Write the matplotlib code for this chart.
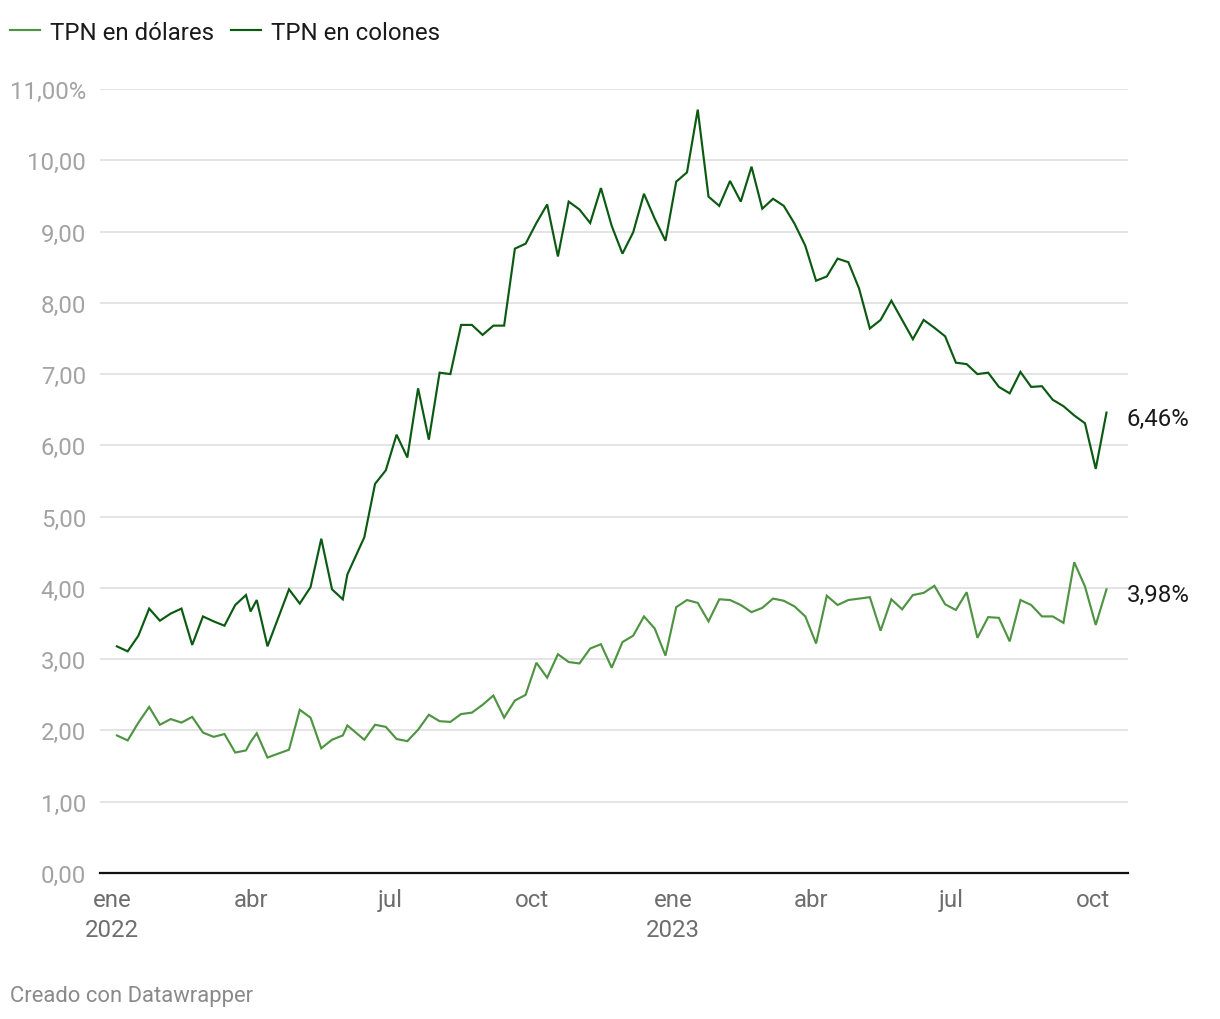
import matplotlib
matplotlib.use("Agg")
import matplotlib.pyplot as plt
from matplotlib.lines import Line2D
import pandas as pd

plt.rcParams['font.family'] = ['Roboto', 'DejaVu Sans']

# ---- data -------------------------------------------------------------
start_date = "2022-01-04"
n_weeks = 93
missing_weeks = [15, 22]            # weeks without a value
extra_dates = ["2022-04-01", "2022-06-03"]

colones = [3.18, 3.11, 3.33, 3.71, 3.54, 3.64, 3.71, 3.20, 3.60, 3.53,
           3.47, 3.76, 3.90, 3.67, 3.83, 3.18, 3.98, 3.78, 4.01, 4.69,
           3.98, 3.84, 4.19, 4.71, 5.46, 5.65, 6.15, 5.83, 6.80, 6.08,
           7.02, 7.00, 7.69, 7.69, 7.55, 7.68, 7.68, 8.76, 8.83, 9.12,
           9.38, 8.65, 9.42, 9.31, 9.12, 9.61, 9.08, 8.69, 8.99, 9.53,
           9.18, 8.87, 9.70, 9.83, 10.71, 9.49, 9.36, 9.71, 9.42, 9.91,
           9.32, 9.46, 9.36, 9.11, 8.80, 8.31, 8.37, 8.62, 8.57, 8.20,
           7.64, 7.76, 8.03, 7.76, 7.49, 7.76, 7.65, 7.53, 7.16, 7.14,
           7.00, 7.02, 6.82, 6.73, 7.03, 6.82, 6.83, 6.64, 6.55, 6.42,
           6.31, 5.67, 6.46]

dolares = [1.93, 1.86, 2.11, 2.33, 2.08, 2.16, 2.11, 2.19, 1.97, 1.91,
           1.95, 1.69, 1.72, 1.84, 1.96, 1.62, 1.73, 2.29, 2.18, 1.75,
           1.87, 1.93, 2.07, 1.87, 2.08, 2.05, 1.88, 1.85, 2.01, 2.22,
           2.13, 2.12, 2.23, 2.25, 2.36, 2.49, 2.18, 2.42, 2.50, 2.95,
           2.74, 3.07, 2.96, 2.94, 3.15, 3.21, 2.88, 3.24, 3.33, 3.60,
           3.43, 3.05, 3.73, 3.83, 3.79, 3.53, 3.84, 3.83, 3.76, 3.66,
           3.72, 3.85, 3.82, 3.74, 3.60, 3.22, 3.89, 3.76, 3.83, 3.85,
           3.87, 3.40, 3.84, 3.70, 3.90, 3.93, 4.03, 3.77, 3.69, 3.94,
           3.30, 3.59, 3.58, 3.25, 3.83, 3.76, 3.60, 3.60, 3.51, 4.36,
           4.02, 3.48, 3.98]

series_names = ["TPN en dólares", "TPN en colones"]
end_labels = ["3,98%", "6,46%"]
tick_dates = ["2022-01-01", "2022-04-01", "2022-07-01", "2022-10-01",
              "2023-01-01", "2023-04-01", "2023-07-01", "2023-10-01"]
tick_labels = ["ene\n2022", "abr", "jul", "oct", "ene\n2023", "abr", "jul", "oct"]
y_ticks = list(range(0, 12))
y_tick_labels = ["0,00", "1,00", "2,00", "3,00", "4,00", "5,00", "6,00",
                 "7,00", "8,00", "9,00", "10,00", "11,00%"]

weekly = pd.date_range(start_date, periods=n_weeks, freq="7D")
weekly = weekly.delete(missing_weeks)
dates = weekly.append(pd.DatetimeIndex(extra_dates)).sort_values()
assert len(dates) == len(colones) == len(dolares)

# ---- style ------------------------------------------------------------
c_dol = "#4f9443"
c_col = "#0b5a12"
grid_c = "#e2e2e2"
fs = 17.3
lw = 1.55

fig = plt.figure(figsize=(12.2, 10.2), dpi=100)
ax = fig.add_axes([100 / 1220, 146 / 1020, 1028 / 1220, 784 / 1020])

ax.plot(dates, dolares, color=c_dol, lw=lw, solid_joinstyle="miter", zorder=3)
ax.plot(dates, colones, color=c_col, lw=lw, solid_joinstyle="miter", zorder=3)

ax.set_ylim(0, 11)
ax.set_xlim(pd.Timestamp("2021-12-24"), pd.Timestamp("2023-10-24"))

ax.set_yticks(y_ticks)
ax.set_yticklabels(y_tick_labels)
ax.set_xticks(pd.to_datetime(tick_dates))
ax.set_xticklabels(tick_labels)

ax.grid(axis="y", color=grid_c, lw=1.3, zorder=0)
ax.grid(axis="x", visible=False)
for s in ["top", "right", "left"]:
    ax.spines[s].set_visible(False)
ax.spines["bottom"].set_color("#111111")
ax.spines["bottom"].set_linewidth(1.6)
ax.spines["bottom"].set_zorder(4)

ax.tick_params(axis="y", length=0, pad=10, labelsize=fs, labelcolor="#a3a3a3")
ax.tick_params(axis="x", length=0, pad=11, labelsize=fs, labelcolor="#6e6e6e")
for lab in ax.get_yticklabels():
    lab.set_horizontalalignment("right")
for lab in ax.get_xticklabels():
    lab.set_linespacing(1.4)

# end labels
for val, txt in zip([colones[-1], dolares[-1]], [end_labels[1], end_labels[0]]):
    ax.annotate(txt, xy=(dates[-1], val), xytext=(14.5, -4),
                textcoords="offset points", va="center", ha="left",
                fontsize=fs, color="#1a1a1a", annotation_clip=False)

# legend
handles = [Line2D([0], [0], color=c_dol, lw=lw),
           Line2D([0], [0], color=c_col, lw=lw)]
fig.legend(handles, series_names, loc="center left",
           bbox_to_anchor=(3 / 1220, 1 - 33 / 1020), ncol=2, frameon=False,
           fontsize=fs, handlelength=1.25, handletextpad=0.42,
           columnspacing=0.7, borderaxespad=0, borderpad=0.3,
           labelcolor="#1a1a1a")

fig.text(10 / 1220, 1 - 997 / 1020, "Creado con Datawrapper",
         fontsize=15.8, color="#8a8a8a", va="center", ha="left")

fig.savefig("out.png", dpi=100, facecolor="white")
